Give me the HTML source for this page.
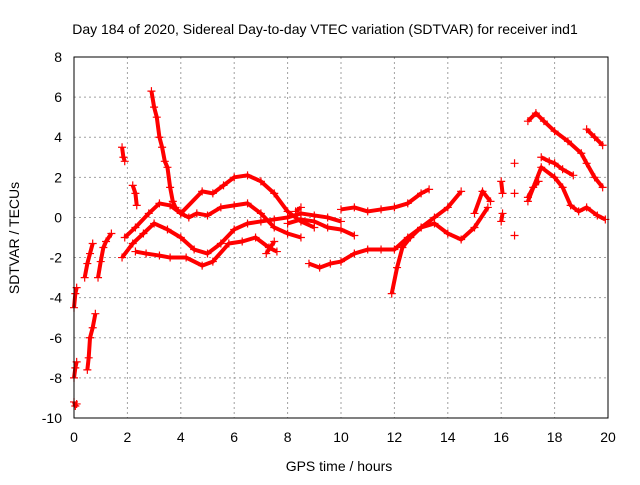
<!DOCTYPE html>
<html><head><meta charset="utf-8"><style>
body{margin:0;background:#fff}
svg{font-family:"Liberation Sans",Arial,sans-serif}
</style></head><body>
<svg id="chart" width="640" height="480">
<text x="325" y="34" font-size="14" text-anchor="middle">Day 184 of 2020, Sidereal Day-to-day VTEC variation (SDTVAR) for receiver ind1</text>
<text x="339" y="471" font-size="14" text-anchor="middle">GPS time / hours</text>
<text transform="translate(19,238) rotate(-90)" font-size="14" text-anchor="middle">SDTVAR / TECUs</text>
<g id="grid"></g>
<g id="marks"></g>
<rect x="74" y="57" width="534" height="361" fill="none" stroke="#000"/>
</svg>
<script>
const xTicks=[0,2,4,6,8,10,12,14,16,18,20];
const yTicks=[-10,-8,-6,-4,-2,0,2,4,6,8];
const tracks=[
[[0,-9.2],[0.05,-9.4],[0.1,-9.3]],
[[0,-8],[0.05,-7.5],[0.1,-7.2]],
[[0,-4.5],[0.05,-3.8],[0.1,-3.5]],
[[0.5,-7.6],[0.55,-7],[0.6,-6],[0.7,-5.5],[0.8,-4.8]],
[[0.4,-3],[0.5,-2.3],[0.6,-1.8],[0.7,-1.3]],
[[0.9,-3],[1,-2.2],[1.1,-1.5],[1.2,-1.2],[1.4,-0.8]],
[[1.8,3.5],[1.85,3],[1.9,2.8]],
[[2.2,1.6],[2.3,1.2],[2.35,0.6]],
[[2.9,6.3],[3,5.5],[3.1,5],[3.2,4],[3.3,3.5],[3.4,2.8],[3.5,2.5],[3.6,1.5],[3.7,0.8],[3.8,0.5],[4,0.2],[4.3,0],[4.6,0.2],[5,0.1],[5.5,0.5],[6,0.6],[6.5,0.7],[7,0.2],[7.5,-0.5],[8,-0.8],[8.5,-1]],
[[1.9,-1],[2.3,-0.5],[2.8,0.2],[3.2,0.7],[3.6,0.6],[4,0.2],[4.8,1.3],[5.2,1.2],[5.6,1.6],[6,2],[6.5,2.1],[7,1.8],[7.5,1.2],[8,0.3],[8.5,-0.2],[9,-0.5]],
[[1.8,-2],[2.2,-1.3],[2.6,-0.8],[3,-0.3],[3.5,-0.6],[4,-1],[4.5,-1.6],[5,-1.8],[5.5,-1.3],[6,-0.6],[6.5,-0.3],[7,-0.2],[7.5,-0.1],[8,0],[8.5,0.2],[9,0.1],[9.5,0],[10,-0.2]],
[[2.3,-1.7],[2.7,-1.8],[3.2,-1.9],[3.6,-2],[4.2,-2],[4.8,-2.4],[5.2,-2.2],[5.8,-1.3],[6.3,-1.2],[6.8,-1],[7.3,-1.5],[7.6,-1.7]],
[[8.8,-2.3],[9.2,-2.5],[9.6,-2.3],[10,-2.2],[10.5,-1.8],[11,-1.6],[11.5,-1.6],[12,-1.6],[12.5,-1],[13,-0.5],[13.5,-0.3],[14,-0.8],[14.5,-1.1],[15,-0.5],[15.5,0.5]],
[[10,0.4],[10.5,0.5],[11,0.3],[11.5,0.4],[12,0.5],[12.5,0.7],[13,1.2],[13.3,1.4]],
[[11.9,-3.8],[12.1,-2.5],[12.3,-1.5],[12.6,-1],[13,-0.5],[13.5,0],[14,0.5],[14.5,1.3]],
[[8,-0.3],[8.5,-0.1],[9,-0.2],[9.5,-0.5],[10,-0.6],[10.5,-0.9]],
[[17,4.8],[17.3,5.2],[17.6,4.8],[18,4.3],[18.5,3.8],[19,3.2],[19.2,2.7],[19.5,2],[19.8,1.5]],
[[17,0.8],[17.5,2.5],[18,2],[18.3,1.5],[18.6,0.6],[18.9,0.3],[19.2,0.5],[19.6,0.1],[19.9,-0.1]],
[[17.5,3],[17.8,2.8],[18,2.7],[18.3,2.4],[18.7,2.1]],
[[19.2,4.4],[19.5,4],[19.8,3.6]],
[[16,1.8],[16.05,1.2]],[[16,-0.2],[16.05,0.2]],
[[16.5,2.7]],[[16.5,1.2]],[[16.5,-0.9]],
[[17,1],[17.2,1.5],[17.4,1.8]],
[[15,0.2],[15.3,1.3],[15.6,0.8]],
[[7.2,-1.8],[7.5,-1.2]],[[8.3,0.3],[8.5,0.5]]
];
const X0=74,X1=608,Y0=418,Y1=57;
const sx=v=>X0+(v-0)/(20-0)*(X1-X0);
const sy=v=>Y0-(v+10)/(18)*(Y0-Y1);
const NS="http://www.w3.org/2000/svg";
const grid=document.getElementById('grid'),marks=document.getElementById('marks');
function mk(t,a,p){const e=document.createElementNS(NS,t);for(const k in a)e.setAttribute(k,a[k]);p.appendChild(e);return e;}
xTicks.forEach(v=>{const x=sx(v);
 const l=mk('line',{x1:x,x2:x,y1:Y1,y2:Y0,stroke:'#a0a0a0','stroke-dasharray':'2,3'},grid);
 
 
 const t=mk('text',{x:x,y:442,'font-size':14,'text-anchor':'middle'},grid);t.textContent=v;
 
 
});
yTicks.forEach(v=>{const y=sy(v);
 const l=mk('line',{x1:X0,x2:X1,y1:y,y2:y,stroke:'#a0a0a0','stroke-dasharray':'2,3'},grid);
 
 
 const t=mk('text',{x:62,y:y+5,'font-size':14,'text-anchor':'end'},grid);t.textContent=v;
 
 
});
tracks.forEach(tr=>{
 if(tr.length>1){const pl=mk('polyline',{points:tr.map(p=>sx(p[0])+','+sy(p[1])).join(' '),fill:'none',stroke:'#f00','stroke-width':4,'stroke-linejoin':'round'},marks);
  
  }
 tr.forEach(p=>{const x=sx(p[0]),y=sy(p[1]);
  const m=mk('path',{d:`M${x-4},${y}H${x+4}M${x},${y-4}V${y+4}`,stroke:'#f00','stroke-width':1.2},marks);
  
  
 });
});
</script>
</body></html>
